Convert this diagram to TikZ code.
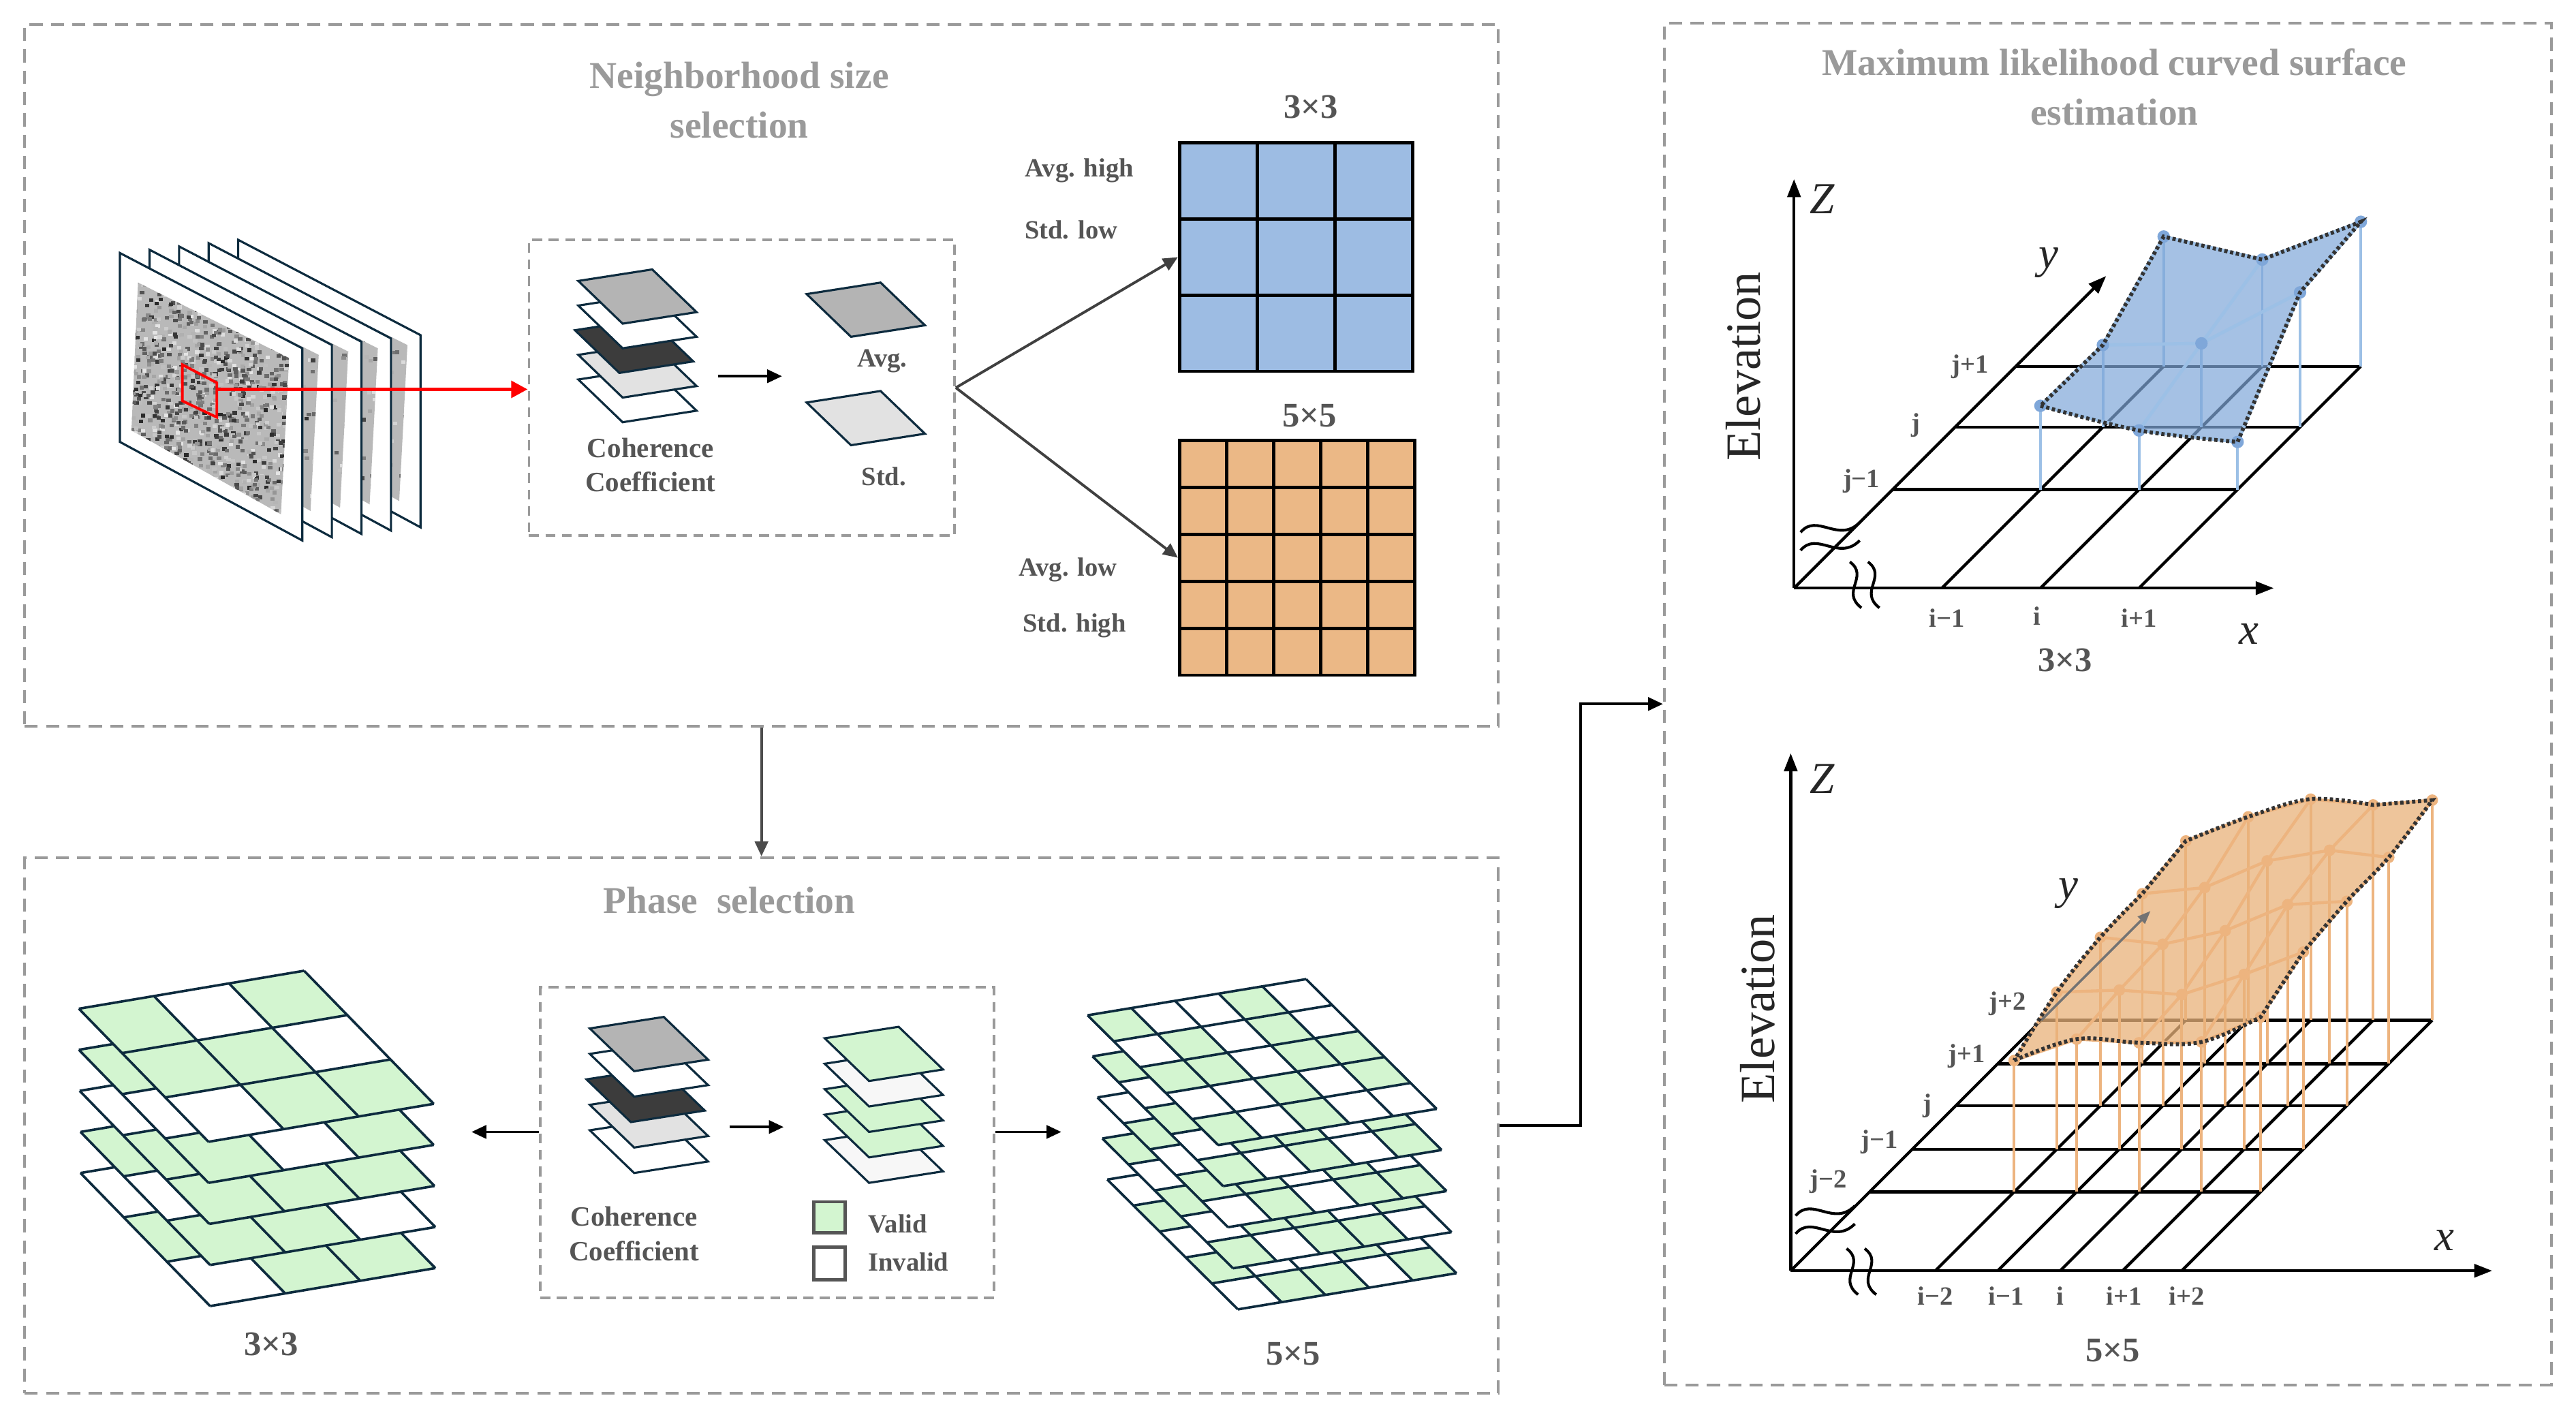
\documentclass[tikz,border=0pt]{standalone}
\usepackage{fontspec}
\setmainfont{Liberation Serif}
\usetikzlibrary{arrows.meta,calc}
\definecolor{ln}{HTML}{0D2B3E}
\definecolor{gr}{HTML}{D3F5D0}
\definecolor{bxg}{HTML}{9A9A9A}
\definecolor{txg}{HTML}{555555}
\definecolor{bfill}{HTML}{9DBCE3}
\definecolor{ofill}{HTML}{EBB886}
\definecolor{bsurf}{HTML}{7FA7D9}
\definecolor{bline}{HTML}{9CC0E6}
\definecolor{osurf}{HTML}{E9B27A}
\definecolor{oline}{HTML}{EDB47F}
\definecolor{tgray}{HTML}{B4B4B4}
\definecolor{tdark}{HTML}{3C3C3C}
\definecolor{tlight}{HTML}{E2E2E2}
\tikzset{
 box/.style={draw=bxg,line width=1.6pt,dash pattern=on 8pt off 5pt,inner sep=0pt},
 ibox/.style={draw=bxg,line width=1.6pt,dash pattern=on 6pt off 4pt,inner sep=0pt},
 ttl/.style={font=\bfseries\fontsize{23}{30}\selectfont,text=bxg,align=center},
 lbl/.style={font=\bfseries\fontsize{17}{21}\selectfont,text=txg,align=center},
 sml/.style={font=\bfseries\fontsize{16}{18}\selectfont,text=txg},
 big/.style={font=\bfseries\fontsize{21}{23}\selectfont,text=txg},
 ax/.style={font=\itshape\fontsize{27}{29}\selectfont,text=black!85},
 elev/.style={font=\fontsize{30}{32}\selectfont,text=black!85,rotate=90},
 arr/.style={line width=1.6pt,-{Triangle[length=9pt,width=8pt]}},
 axis/.style={line width=1.8pt,-{Triangle[length=11pt,width=8pt]}},
 gline/.style={line width=1.8pt,black},
}
\newcommand\sarframe[2]{%
 \pgfmathsetmacro\fx{18*#1}\pgfmathsetmacro\fy{2*#1}
 \draw[ln,fill=white,line width=1.3pt] (73+\fx,154-\fy) -- (184+\fx,212-\fy) -- (184+\fx,329-\fy) -- (73+\fx,269-\fy) -- cycle;
 \begin{scope}
 \clip (84+\fx,172-\fy) -- (176+\fx,218-\fy) -- (171+\fx,313-\fy) -- (80+\fx,262-\fy) -- cycle;
 \fill[gray!55] (70+\fx,150) rectangle (190+\fx,330);
 \foreach \n in {1,...,#2}{\pgfmathsetmacro\rx{78+\fx+rnd*100}\pgfmathsetmacro\ry{160-\fy+rnd*160}\pgfmathtruncatemacro\rc{10+rnd*75}
  \fill[black!\rc] (\rx,\ry) rectangle ++(2.6,2.2);}
 \end{scope}}
\newcommand\tile[3]{\draw[ln,line width=1.3pt,fill=#3] (#1,#2) -- ++(45,-7) -- ++(27,26) -- ++(-45,7) -- cycle;}
% origin x, origin y, n-1, ux, uy, vx, vy, pattern
\newcommand\glayer[8]{%
 \foreach \a in {0,...,#3}{\foreach \b in {0,...,#3}{%
  \pgfmathsetmacro\xa{#1+\a*(#4)+\b*(#6)}\pgfmathsetmacro\ya{#2+\a*(#5)+\b*(#7)}
  \pgfmathtruncatemacro\pv{{#8}[\b*(#3+1)+\a]}\ifnum\pv=1 \def\cc{gr}\else\def\cc{white}\fi
  \fill[\cc] (\xa,\ya) -- ++(#4,#5) -- ++(#6,#7) -- ++({-(#4)},{-(#5)}) -- cycle;}}
 \pgfmathsetmacro\nn{#3+1}
 \foreach \a in {0,...,\nn}{%
  \draw[ln,line width=1.5pt] ({#1+\a*(#4)},{#2+\a*(#5)}) -- ++({\nn*(#6)},{\nn*(#7)});
  \draw[ln,line width=1.5pt] ({#1+\a*(#6)},{#2+\a*(#7)}) -- ++({\nn*(#4)},{\nn*(#5)});}}
\begin{document}
\begin{tikzpicture}[x=1pt,y=-1pt]
\useasboundingbox (0,0) rectangle (1568,860);
\fill[white] (0,0) rectangle (1568,860);
% ---------- outer boxes
\node[box,minimum width=897pt,minimum height=427pt] (b1) at (463.5,228.5) {};
\node[box,minimum width=897pt,minimum height=326pt] (b2) at (463.5,685) {};
\node[box,minimum width=540pt,minimum height=829pt] (b3) at (1283,428.5) {};
\node[ttl] (t1) at (450,61) {Neighborhood size\\selection};
\node[ttl] (t2) at (444,548) {Phase\ \ selection};
\node[ttl] (t3) at (1287,53) {Maximum likelihood curved surface\\estimation};
\draw[arr,black!70] (b1.south) -- (b2.north);
\coordinate (elb) at (962,685);
\draw[arr,black] (b2.east) -- (elb) |- (b3.west);
% ---------- SAR stack
\pgfmathsetseed{7}
\foreach \k in {4,3,2,1}{\sarframe{\k}{200}}
\sarframe{0}{1400}
\draw[red,line width=1.6pt] (111,222) -- (132,233) -- (132,254) -- (111,244) -- cycle;
\coordinate (rs) at (132,237);
\node[ibox,minimum width=259pt,minimum height=180pt] (ib1) at (451.5,236) {};
\draw[red,line width=2.4pt,-{Triangle[length=10pt,width=10pt]}] (rs) -- (rs -| ib1.west);
% coherence tiles box 1
\tile{352}{231}{white}\tile{352}{216}{tlight}\tile{350}{201}{tdark}\tile{352}{186}{white}\tile{352}{171}{tgray}
\node[lbl] (cc1) at (396,283) {Coherence\\Coefficient};
\coordinate (a1s) at (437,229); \coordinate (a1e) at (476,229);
\draw[arr,black] (a1s) -- (a1e);
\tile{491}{179}{tgray}\tile{491}{245}{tlight}
\node[sml] (avg) at (537,220) {Avg.};
\node[sml] (std) at (538,290) {Std.};
% ---------- grids
\node[draw=black,line width=2pt,fill=bfill,minimum width=142pt,minimum height=139pt,inner sep=0pt] (g3) at (789,156.5) {};
\foreach \t in {1,2}{\draw[line width=2pt] (718+\t*142/3,87) -- (718+\t*142/3,226); \draw[line width=2pt] (718,87+\t*139/3) -- (860,87+\t*139/3);}
\node[draw=black,line width=2pt,fill=ofill,minimum width=143pt,minimum height=143pt,inner sep=0pt] (g5) at (789.5,339.5) {};
\foreach \t in {1,...,4}{\draw[line width=2pt] (718+\t*143/5,268) -- (718+\t*143/5,411); \draw[line width=2pt] (718,268+\t*143/5) -- (861,268+\t*143/5);}
\draw[arr,black!75] (ib1.east) -- (g3.west);
\draw[arr,black!75] (ib1.east) -- (g5.west);
\node[big] (l33) at (798,65) {3×3};
\node[big] (l55) at (797,253) {5×5};
\node[sml] (ah) at (657,104) {Avg. high};
\node[sml] (sl) at (652,140) {Std. low};
\node[sml] (al) at (650,347) {Avg. low};
\node[sml] (sh) at (654,381) {Std. high};
% ---------- phase selection
\node[ibox,minimum width=276pt,minimum height=189pt] (ib2) at (467,695.5) {};
\tile{359}{688}{white}\tile{359}{672.5}{tlight}\tile{357}{657}{tdark}\tile{359}{641.5}{white}\tile{359}{626}{tgray}
\tile{502}{694}{white!97!black}\tile{502}{678.5}{gr}\tile{502}{663}{gr}\tile{502}{647.5}{white!97!black}\tile{502}{632}{gr}
\coordinate (a2s) at (444,686); \coordinate (a2e) at (477,686);
\draw[arr,black] (a2s) -- (a2e);
\node[lbl] (cc2) at (386,751) {Coherence\\Coefficient};
\node[draw=txg,line width=2pt,fill=gr,minimum width=19pt,minimum height=19pt,inner sep=0pt] (lv) at (505,741) {};
\node[draw=txg,line width=2pt,fill=white,minimum width=19pt,minimum height=20pt,inner sep=0pt] (li) at (505,769) {};
\node[sml,anchor=west] (vt) at (525,745) {Valid};
\node[sml,anchor=west] (it) at (525,768) {Invalid};
\coordinate (pl) at (287,689); \coordinate (pr) at (646,689);
\draw[arr,black] (ib2.west |- pl) -- (pl);
\draw[arr,black] (ib2.east |- pr) -- (pr);
% left 3x3 stack
\glayer{49}{714}{2}{45.7}{-7.7}{26.3}{27}{0,1,0,1,1,1,0,1,1}
\glayer{49}{689}{2}{45.7}{-7.7}{26.3}{27}{1,1,1,0,1,0,1,1,0}
\glayer{48.5}{664}{2}{45.7}{-7.7}{26.3}{27}{0,1,0,1,0,1,1,1,1}
\glayer{48}{639}{2}{45.7}{-7.7}{26.3}{27}{1,1,0,0,1,1,1,0,1}
\glayer{48}{614}{2}{45.7}{-7.7}{26.3}{27}{1,0,1,1,1,0,0,1,1}
\node[big] (s33) at (165,818) {3×3};
% right 5x5 stack
\glayer{674}{718}{4}{26.6}{-4.4}{15.9}{15.8}{0,1,1,1,0,1,0,1,0,1,0,1,0,1,1,1,0,0,1,0,0,1,1,0,1}
\glayer{671}{693}{4}{26.6}{-4.4}{15.9}{15.8}{1,0,1,0,1,0,1,1,0,0,1,0,0,1,1,0,1,1,0,1,1,0,1,1,0}
\glayer{668}{668}{4}{26.6}{-4.4}{15.9}{15.8}{0,1,1,0,1,1,0,1,1,0,0,1,0,1,1,1,1,0,1,0,0,1,0,1,1}
\glayer{665}{643}{4}{26.6}{-4.4}{15.9}{15.8}{1,1,0,1,0,0,1,0,1,1,1,0,1,0,0,0,1,1,0,1,1,0,1,0,1}
\glayer{662}{618}{4}{26.6}{-4.4}{15.9}{15.8}{1,0,0,1,0,0,1,0,1,0,1,1,0,1,1,0,0,1,0,1,1,0,1,0,0}
\node[big] (s55) at (787,824) {5×5};
% ---------- top plot (3x3)
\begin{scope}[shift={(1092,358)},x={(1pt,0pt)},y={(1pt,1pt)},z={(0pt,1pt)}]
 \foreach \d in {60,98,135}{\draw[gline] (0,\d) -- (210,\d);}
 \foreach \c in {90,150,210}{\draw[gline] (\c,0) -- (\c,135);}
 \draw[gline] (0,0) -- (0,135);
 \coordinate (o1) at (0,0); \coordinate (x1) at (292,0); \coordinate (z1) at (0,0,249);
 \coordinate (ys1) at (0,135); \coordinate (ye1) at (0,190);
 \draw[axis] (o1) -- (x1);
 \draw[axis] (o1) -- (z1);
 \draw[axis] (ys1) -- (ye1);
 \foreach \ci/\c in {0/90,1/150,2/210}{\foreach \ri/\d in {0/60,1/98,2/135}{%
   \pgfmathsetmacro\h{{{51,36,29},{50,51,82},{79,65,88}}[\ri][\ci]}
   \coordinate (t-\ci-\ri) at (\c,\d,\h);
   \draw[bline,line width=1.6pt] (\c,\d,0) -- (t-\ci-\ri);}}
 \fill[bsurf,opacity=0.7] plot[smooth,tension=0.6] coordinates {(t-0-0) (t-1-0) (t-2-0)} -- plot[smooth,tension=0.6] coordinates {(t-2-1) (t-2-2)} -- plot[smooth,tension=0.6] coordinates {(t-1-2) (t-0-2)} -- plot[smooth,tension=0.6] coordinates {(t-0-1) (t-0-0)} -- cycle;
 \foreach \i/\j in {0/1,1/2}{\foreach \r in {0,1,2}{\draw[bline,line width=2pt] (t-\i-\r) -- (t-\j-\r); \draw[bline,line width=2pt] (t-\r-\i) -- (t-\r-\j);}}
 \foreach \ci in {0,1,2}{\foreach \ri in {0,1,2}{\fill[bsurf] (t-\ci-\ri) circle (3.8pt);}}
 \draw[black!80,line width=2.4pt,dash pattern=on 2pt off 1.6pt] plot[smooth,tension=0.6] coordinates {(t-0-0) (t-1-0) (t-2-0)} -- plot[smooth,tension=0.6] coordinates {(t-2-1) (t-2-2)} -- plot[smooth,tension=0.6] coordinates {(t-1-2) (t-0-2)} -- plot[smooth,tension=0.6] coordinates {(t-0-1) (t-0-0)} -- cycle;
\end{scope}
% break marks top
\foreach \yy in {321,332}{\draw[line width=1.7pt] (1096,\yy+3) .. controls (1106,\yy-9) and (1119,\yy+10) .. (1132,\yy-3);}
\foreach \xx in {1129,1140}{\draw[line width=1.7pt] (\xx-3,342) .. controls (\xx+9,351) and (\xx-9,360) .. (\xx+4,370);}
\node[ax] (zl1) at (1109,121) {Z};
\node[ax] (xl1) at (1369,386) {x};
\node[ax] (yl1) at (1247,160) {y};
\node[elev] (el1) at (1061,223) {Elevation};
\node[sml] (i1a) at (1185,376) {i−1};
\node[sml] (i1b) at (1240,375) {i};
\node[sml] (i1c) at (1302,376) {i+1};
\node[sml] (j1a) at (1133,293) {j−1};
\node[sml] (j1b) at (1166,259) {j};
\node[sml] (j1c) at (1199,223) {j+1};
\node[big] (p33) at (1257,402) {3×3};
% ---------- bottom plot (5x5)
\begin{scope}[shift={(1090,773.5)},x={(1pt,0pt)},y={(1pt,1pt)},z={(0pt,1pt)}]
 \foreach \d in {48,74,100.5,126,152.5}{\draw[gline] (0,\d) -- (238,\d);}
 \foreach \c in {88,126,164,202,238}{\draw[gline] (\c,0) -- (\c,152.5);}
 \draw[gline] (0,0) -- (0,152.5);
 \coordinate (o2) at (0,0); \coordinate (x2) at (427,0); \coordinate (z2) at (0,0,315);
 \coordinate (ys2) at (0,152.5); \coordinate (ye2) at (0,219);
 \draw[axis] (o2) -- (x2);
 \draw[axis] (o2) -- (z2);
 \foreach \ci/\c in {0/88,1/126,2/164,3/202,4/238}{\foreach \ri/\d in {0/48,1/74,2/100.5,3/126,4/152.5}{%
   \pgfmathsetmacro\h{80+6*\ci+9*\ri+7*sin(\ci*95+\ri*70)}
   \coordinate (s-\ci-\ri) at (\c,\d,\h);
   \draw[oline,line width=1.6pt] (\c,\d,0) -- (s-\ci-\ri);}}
 \fill[osurf,opacity=0.75] plot[smooth,tension=0.6] coordinates {(s-0-0) (s-1-0) (s-2-0) (s-3-0) (s-4-0)} -- plot[smooth,tension=0.6] coordinates {(s-4-1) (s-4-2) (s-4-3) (s-4-4)} -- plot[smooth,tension=0.6] coordinates {(s-3-4) (s-2-4) (s-1-4) (s-0-4)} -- plot[smooth,tension=0.6] coordinates {(s-0-3) (s-0-2) (s-0-1) (s-0-0)} -- cycle;
 \foreach \i/\j in {0/1,1/2,2/3,3/4}{\foreach \r in {0,...,4}{\draw[oline,line width=1.8pt] (s-\i-\r) -- (s-\j-\r); \draw[oline,line width=1.8pt] (s-\r-\i) -- (s-\r-\j);}}
 \foreach \ci in {0,...,4}{\foreach \ri in {0,...,4}{\fill[oline] (s-\ci-\ri) circle (3.5pt);}}
 \draw[black!55,line width=1.5pt,-{Triangle[length=8pt,width=6pt]}] (ys2) -- (ye2);
 \draw[black!80,line width=2.4pt,dash pattern=on 2pt off 1.6pt] plot[smooth,tension=0.6] coordinates {(s-0-0) (s-1-0) (s-2-0) (s-3-0) (s-4-0)} -- plot[smooth,tension=0.6] coordinates {(s-4-1) (s-4-2) (s-4-3) (s-4-4)} -- plot[smooth,tension=0.6] coordinates {(s-3-4) (s-2-4) (s-1-4) (s-0-4)} -- plot[smooth,tension=0.6] coordinates {(s-0-3) (s-0-2) (s-0-1) (s-0-0)} -- cycle;
\end{scope}
\foreach \yy in {737,748}{\draw[line width=1.7pt] (1093,\yy+3) .. controls (1103,\yy-9) and (1116,\yy+10) .. (1129,\yy-3);}
\foreach \xx in {1127,1138}{\draw[line width=1.7pt] (\xx-3,760) .. controls (\xx+9,769) and (\xx-9,778) .. (\xx+4,788);}
\node[ax] (zl2) at (1109,474) {Z};
\node[ax] (xl2) at (1488,755) {x};
\node[ax] (yl2) at (1259,544) {y};
\node[elev] (el2) at (1070,614) {Elevation};
\node[sml] (i2a) at (1178,789) {i−2};
\node[sml] (i2b) at (1221,789) {i−1};
\node[sml] (i2c) at (1254,789) {i};
\node[sml] (i2d) at (1293,789) {i+1};
\node[sml] (i2e) at (1331,789) {i+2};
\node[sml] (j2a) at (1113,719) {j−2};
\node[sml] (j2b) at (1144,695) {j−1};
\node[sml] (j2c) at (1173,673) {j};
\node[sml] (j2d) at (1197,643) {j+1};
\node[sml] (j2e) at (1222,611) {j+2};
\node[big] (p55) at (1286,822) {5×5};
\end{tikzpicture}
\end{document}
